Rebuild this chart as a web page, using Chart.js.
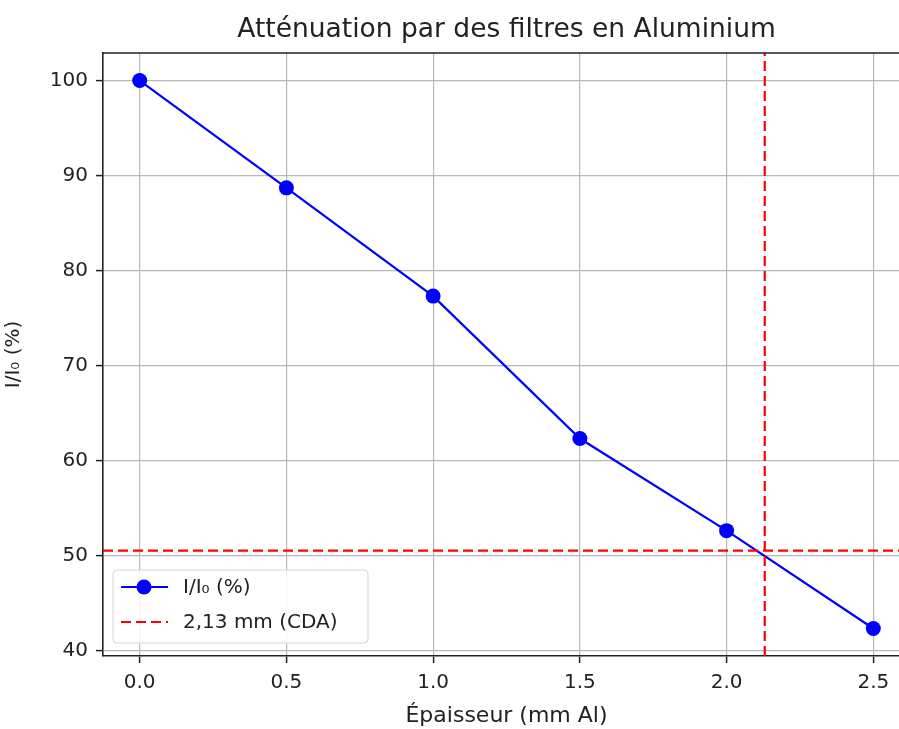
<!DOCTYPE html>
<html>
<head>
<meta charset="utf-8">
<title>Atténuation par des filtres en Aluminium</title>
<script src="https://cdn.jsdelivr.net/npm/chart.js@4.4.1/dist/chart.umd.min.js"></script>
<style>
  html, body { margin: 0; padding: 0; background: #fff; overflow: hidden; }
  #wrap { width: 899px; height: 729px; overflow: hidden; }
  canvas { display: block; }
</style>
</head>
<body>
<div id="wrap"><canvas id="attChart" width="960" height="729"></canvas></div>
<script>
'use strict';

// ── Données ─────────────────────────────────────────────────────────────────
var THICKNESS  = [0.0, 0.5, 1.0, 1.5, 2.0, 2.5];        // mm Al
var INTENSITY  = [100, 88.7, 77.3, 62.3, 52.6, 42.3];   // I/I0 (%)
var CDA        = 2.13;                                  // couche de demi-atténuation (mm)
var HALF_LEVEL = 50.5;                                  // niveau horizontal (%)

var X_TICKS = [0, 0.5, 1.0, 1.5, 2.0, 2.5];
var Y_TICKS = [40, 50, 60, 70, 80, 90, 100];
var X_RANGE = [-0.125, 2.625];   // la figure d'origine est rognée à droite
var Y_RANGE = [39.4, 102.9];

var TITLE    = 'Atténuation par des filtres en Aluminium';
var X_LABEL  = 'Épaisseur (mm Al)';
var Y_LABEL  = 'I/I\u2080 (%)';
var SERIES_LABEL = 'I/I\u2080 (%)';
var CDA_LABEL    = '2,13 mm (CDA)';

// ── Style ───────────────────────────────────────────────────────────────────
var FONT   = 'DejaVu Sans';
var INK    = '#222222';
var BLUE   = '#0000ff';
var RED    = '#ff0000';
var GRID   = '#b8b8b8';
var DASH   = [10, 5];

// titre, bord supérieur et légende (dessinés à la matplotlib)
var decorPlugin = {
    id: 'decor',
    afterDatasetsDraw: function (chart) {
        var a = chart.chartArea, ctx = chart.ctx;
        ctx.save();
        ctx.strokeStyle = INK;
        ctx.lineWidth = 1.6;
        ctx.beginPath();
        ctx.moveTo(a.left, a.top);
        ctx.lineTo(a.right, a.top);
        ctx.stroke();
        ctx.restore();
    },
    afterDraw: function (chart) {
        var a = chart.chartArea, ctx = chart.ctx;
        ctx.save();

        // titre centré sur la zone de tracé
        ctx.fillStyle = INK;
        ctx.font = '26.5px "' + FONT + '"';
        ctx.textAlign = 'center';
        ctx.textBaseline = 'alphabetic';
        ctx.fillText(TITLE, (a.left + a.right) / 2, 37);

        // légende en bas à gauche
        var items = chart.data.datasets.filter(function (d) { return d.legendText; });
        var bx = a.left + 10, bw = 255, rowH = 35;
        var bh = items.length * rowH + 3;
        var by = a.bottom - 13 - bh;
        ctx.beginPath();
        ctx.roundRect(bx, by, bw, bh, 4);
        ctx.fillStyle = 'rgba(255,255,255,0.85)';
        ctx.fill();
        ctx.strokeStyle = '#d4d4d4';
        ctx.lineWidth = 1;
        ctx.stroke();

        items.forEach(function (d, i) {
            var y = by + 17 + i * rowH;
            ctx.beginPath();
            ctx.setLineDash(d.borderDash || []);
            ctx.strokeStyle = d.borderColor;
            ctx.lineWidth = d.borderWidth;
            ctx.moveTo(bx + 8, y);
            ctx.lineTo(bx + 55, y);
            ctx.stroke();
            ctx.setLineDash([]);
            if (d.pointRadius) {
                ctx.beginPath();
                ctx.arc(bx + 31, y, d.pointRadius, 0, Math.PI * 2);
                ctx.fillStyle = d.pointBackgroundColor;
                ctx.fill();
            }
            ctx.fillStyle = INK;
            ctx.font = '20px "' + FONT + '"';
            ctx.textAlign = 'left';
            ctx.textBaseline = 'middle';
            ctx.fillText(d.legendText, bx + 70, y + 1);
        });
        ctx.restore();
    }
};

var seriesPoints = THICKNESS.map(function (x, i) { return { x: x, y: INTENSITY[i] }; });

new Chart(document.getElementById('attChart').getContext('2d'), {
    type: 'scatter',
    data: {
        datasets: [
            {
                legendText: SERIES_LABEL,
                data: seriesPoints,
                showLine: true,
                borderColor: BLUE,
                borderWidth: 2.2,
                pointRadius: 7.5,
                pointBackgroundColor: BLUE,
                pointBorderColor: BLUE,
                pointBorderWidth: 0,
                order: 2
            },
            {
                // ligne verticale : épaisseur CDA
                legendText: CDA_LABEL,
                data: [{ x: CDA, y: Y_RANGE[0] }, { x: CDA, y: Y_RANGE[1] }],
                showLine: true,
                borderColor: RED,
                borderWidth: 2.2,
                borderDash: DASH,
                pointRadius: 0,
                order: 1
            },
            {
                // ligne horizontale : niveau de demi-atténuation
                data: [{ x: X_RANGE[0], y: HALF_LEVEL }, { x: X_RANGE[1], y: HALF_LEVEL }],
                showLine: true,
                borderColor: RED,
                borderWidth: 2.2,
                borderDash: DASH,
                pointRadius: 0,
                order: 1
            }
        ]
    },
    options: {
        responsive: false,
        animation: false,
        events: [],
        layout: { padding: { top: 53, right: 50, bottom: 0, left: 0 } },
        plugins: {
            legend: { display: false },
            tooltip: { enabled: false },
            title: { display: false }
        },
        scales: {
            x: {
                type: 'linear',
                min: X_RANGE[0],
                max: X_RANGE[1],
                afterBuildTicks: function (s) { s.ticks = X_TICKS.map(function (v) { return { value: v }; }); },
                afterFit: function (s) { s.height = 73; },
                grid: { color: GRID, lineWidth: 1.2, tickLength: 7, tickColor: INK, tickWidth: 1.5 },
                border: { display: true, color: INK, width: 1.6 },
                ticks: {
                    padding: 8,
                    color: INK,
                    font: { family: FONT, size: 20 },
                    maxRotation: 0,
                    callback: function (v) { return Number(v).toFixed(1); }
                },
                title: {
                    display: true,
                    text: X_LABEL,
                    color: INK,
                    font: { family: FONT, size: 22 },
                    padding: { top: 0, bottom: 0 }
                }
            },
            y: {
                type: 'linear',
                min: Y_RANGE[0],
                max: Y_RANGE[1],
                afterBuildTicks: function (s) { s.ticks = Y_TICKS.map(function (v) { return { value: v }; }); },
                afterFit: function (s) { s.width = 103; },
                grid: { color: GRID, lineWidth: 1.2, tickLength: 7, tickColor: INK, tickWidth: 1.5 },
                border: { display: true, color: INK, width: 1.6 },
                ticks: {
                    padding: 8,
                    color: INK,
                    font: { family: FONT, size: 20 },
                    callback: function (v) { return String(v); }
                },
                title: {
                    display: true,
                    text: Y_LABEL,
                    color: INK,
                    font: { family: FONT, size: 20 },
                    padding: { top: 2, bottom: 0 }
                }
            }
        }
    },
    plugins: [decorPlugin]
});
</script>
</body>
</html>
